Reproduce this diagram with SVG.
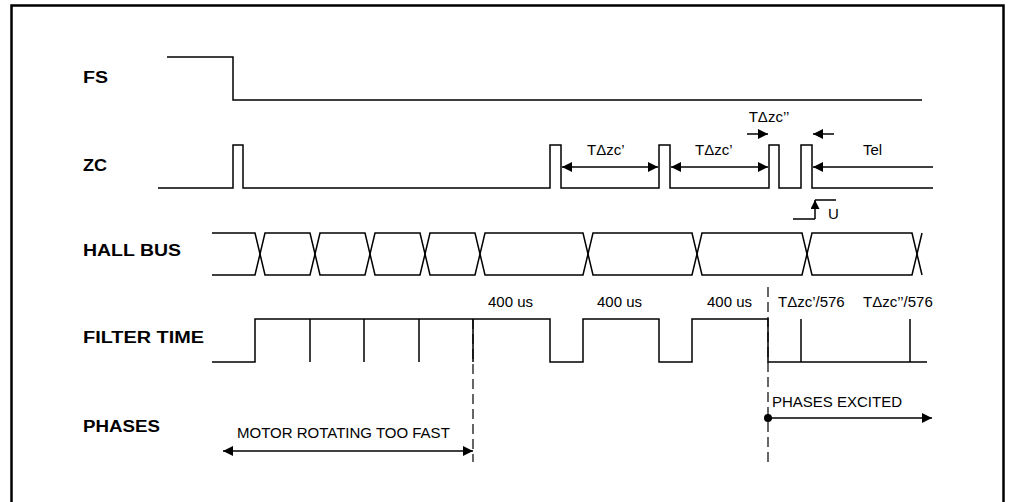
<svg xmlns="http://www.w3.org/2000/svg" width="1016" height="502" viewBox="0 0 1016 502">
<style>
.sig{fill:none;stroke:#000;stroke-width:1.5}
.lbl{font-family:"Liberation Sans",Arial,sans-serif;font-weight:bold;font-size:16px;fill:#000}
.txt{font-family:"Liberation Sans",Arial,sans-serif;font-size:15px;fill:#000}
.arr{fill:none;stroke:#000;stroke-width:1.5}
.dash{fill:none;stroke:#000;stroke-width:1.2;stroke-dasharray:10 5}
</style>
<defs>
<marker id="ah" markerUnits="userSpaceOnUse" markerWidth="10" markerHeight="10" refX="10" refY="5" orient="auto-start-reverse" viewBox="0 0 10 10"><path d="M0,0L10,5L0,10z" fill="#000"/></marker>
<marker id="ahs" markerUnits="userSpaceOnUse" markerWidth="9" markerHeight="9" refX="10" refY="5" orient="auto-start-reverse" viewBox="0 0 10 10"><path d="M0,0L10,5L0,10z" fill="#000"/></marker>
</defs>
<rect x="0" y="0" width="1016" height="502" fill="#fff"/>
<rect x="11.5" y="5.5" width="992" height="510" fill="none" stroke="#000" stroke-width="2.5"/>

<g id="fs">
<text class="lbl" x="83" y="83" textLength="25" lengthAdjust="spacingAndGlyphs">FS</text>
<path class="sig" d="M167,57 H233 V100 H922"/>
</g>

<g id="zc">
<text class="lbl" x="83" y="171" textLength="24" lengthAdjust="spacingAndGlyphs">ZC</text>
<path class="sig" d="M158,188 H233 V145 H243 V188 H550 V145 H561 V188 H659 V145 H670 V188 H769 V145 H779 V188 H801 V145 H812 V188 H933"/>
<text class="txt" x="587" y="155">TΔzc’</text>
<text class="txt" x="695" y="155">TΔzc’</text>
<text class="txt" x="769" y="122" text-anchor="middle">TΔzc’’</text>
<text class="txt" x="863" y="155">Tel</text>
<text class="txt" x="828" y="219">U</text>
</g>

<g id="hall-bus">
<text class="lbl" x="83" y="256" textLength="98" lengthAdjust="spacingAndGlyphs">HALL BUS</text>
<path class="sig" d="M212,233 H255 L265,275 H310 L320,233 H365 L375,275 H420 L430,233 H475 L485,275 H583 L593,233 H692 L702,275 H802 L812,233 H912 L922,275"/>
<path class="sig" d="M212,275 H255 L265,233 H310 L320,275 H365 L375,233 H420 L430,275 H475 L485,233 H583 L593,275 H692 L702,233 H802 L812,275 H912 L922,233"/>
</g>

<g id="filter-time">
<text class="lbl" x="83" y="343" textLength="121" lengthAdjust="spacingAndGlyphs">FILTER TIME</text>
<path class="sig" d="M212,362 H255 V319 H550 V362 H583 V319 H659 V362 H692 V319 H768 V362 H927"/>
<path class="sig" d="M310,319V362 M364,319V362 M419,319V362 M473,319V362 M801,319V362 M910,319V362"/>
<text class="txt" x="488" y="307">400 us</text>
<text class="txt" x="597" y="307">400 us</text>
<text class="txt" x="707" y="307">400 us</text>
<text class="txt" x="778" y="307">TΔzc’/576</text>
<text class="txt" x="863" y="307">TΔzc’’/576</text>
</g>

<g id="phases">
<text class="lbl" x="83" y="432" textLength="77" lengthAdjust="spacingAndGlyphs">PHASES</text>
<text class="txt" x="237" y="438">MOTOR ROTATING TOO FAST</text>
<text class="txt" x="772" y="407">PHASES EXCITED</text>
<circle cx="768" cy="418" r="4" fill="#000"/>
</g>

<g id="connectors">
<line class="arr" x1="562" y1="167" x2="658" y2="167" marker-start="url(#ah)" marker-end="url(#ah)"/>
<line class="arr" x1="671" y1="167" x2="768" y2="167" marker-start="url(#ah)" marker-end="url(#ah)"/>
<line class="arr" x1="747" y1="134" x2="768" y2="134" marker-end="url(#ah)"/>
<line class="arr" x1="834" y1="134" x2="813" y2="134" marker-end="url(#ah)"/>
<line class="arr" x1="933" y1="167" x2="813" y2="167" marker-end="url(#ah)"/>
<path class="arr" d="M793,219 H815 M815,200 H836"/>
<line class="arr" x1="815" y1="219" x2="815" y2="200" marker-end="url(#ahs)"/>
<line class="arr" x1="223" y1="451" x2="473" y2="451" marker-start="url(#ah)" marker-end="url(#ah)"/>
<line class="arr" x1="768" y1="418" x2="932" y2="418" marker-end="url(#ah)"/>
<line class="dash" x1="473" y1="319" x2="473" y2="462"/>
<line class="dash" x1="768" y1="287" x2="768" y2="462"/>
</g>
</svg>
